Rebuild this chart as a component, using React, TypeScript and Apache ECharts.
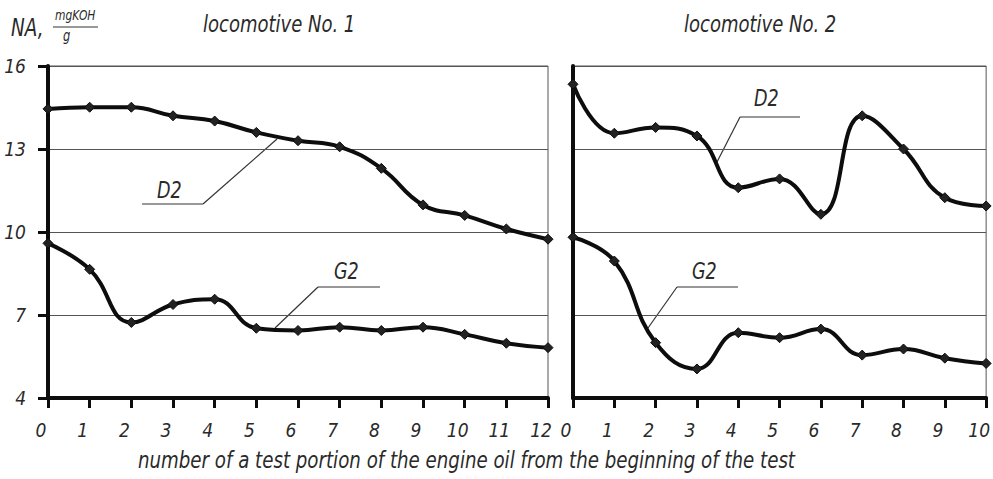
import React, { useEffect, useRef } from "react";
import * as echarts from "echarts";

// Test portion numbers for each locomotive
const portions1 = ["0", "1", "2", "3", "4", "5", "6", "7", "8", "9", "10", "11", "12"];
const portions2 = ["0", "1", "2", "3", "4", "5", "6", "7", "8", "9", "10"];

// Neutralization number, mgKOH/g
const loco1D2 = [14.45, 14.51, 14.51, 14.2, 14.01, 13.6, 13.3, 13.08, 12.3, 10.98, 10.6, 10.11, 9.74];
const loco1G2 = [9.59, 8.65, 6.73, 7.38, 7.57, 6.52, 6.44, 6.56, 6.44, 6.56, 6.3, 5.98, 5.82];
const loco2D2 = [15.34, 13.57, 13.78, 13.47, 11.6, 11.92, 10.64, 14.2, 13.0, 11.24, 10.94];
const loco2G2 = [9.81, 8.95, 6.0, 5.05, 6.36, 6.18, 6.49, 5.55, 5.77, 5.44, 5.25];

const yTicks = { min: 4, max: 16, interval: 3 };

const FONT = "'Liberation Sans Narrow', 'DejaVu Sans Condensed', 'Roboto', sans-serif";
const TEXT = "#2a2a2a";
const INK = "#0d0d0d";
const NARROW = 0.85;

export default function App() {
  const ref = useRef<HTMLDivElement>(null);

  useEffect(() => {
    if (!ref.current) return;
    const chart = echarts.init(ref.current, undefined, { renderer: "svg" });

    const label = (size: number) => ({
      fontFamily: FONT,
      fontStyle: "italic" as const,
      fontSize: size,
      color: TEXT,
    });

    // condensed italic caption placed at a pixel position
    const caption = (x: number, y: number, text: string, size: number, scaleX = NARROW) => ({
      type: "text",
      x,
      y,
      scaleX,
      style: {
        text,
        fontFamily: FONT,
        fontStyle: "italic",
        fontSize: size,
        fill: TEXT,
        align: "left",
        verticalAlign: "top",
      },
    });

    const grid = (left: number, width: number) => ({
      left,
      top: 66,
      width,
      height: 332,
      show: true,
      borderColor: "#555",
      borderWidth: 1,
      backgroundColor: "transparent",
    });

    const xAxis = (gridIndex: number, data: string[]) => ({
      type: "category" as const,
      gridIndex,
      data,
      boundaryGap: false,
      axisLine: { show: true, lineStyle: { color: INK, width: 4 } },
      axisTick: { show: true, length: 10, lineStyle: { color: INK, width: 3 } },
      axisLabel: { ...label(19), margin: 22, padding: [0, 14, 0, 0] },
      splitLine: { show: false },
    });

    const yAxis = (gridIndex: number, showLabels: boolean) => ({
      type: "value" as const,
      gridIndex,
      ...yTicks,
      axisLine: { show: true, lineStyle: { color: INK, width: 4 } },
      axisTick: { show: showLabels, length: 10, lineStyle: { color: INK, width: 3 } },
      axisLabel: { show: showLabels, ...label(19), margin: 22 },
      splitLine: { show: true, lineStyle: { color: "#555", width: 1 } },
    });

    const line = (name: string, data: number[], xAxisIndex: number) => ({
      name,
      type: "line" as const,
      xAxisIndex,
      yAxisIndex: xAxisIndex,
      data,
      smooth: 0.45,
      symbol: "diamond",
      symbolSize: 10,
      lineStyle: { color: INK, width: 4 },
      itemStyle: { color: "#222", borderColor: INK, borderWidth: 1 },
    });

    const leader = (tx: number, ty: number, name: string, x1: number, x2: number, uy: number, ex: number, ey: number, fromLeft: boolean) => [
      caption(tx, ty, name, 23),
      { type: "line", shape: { x1, y1: uy, x2, y2: uy }, style: { stroke: "#333", lineWidth: 1.2 } },
      { type: "line", shape: { x1: fromLeft ? x1 : x2, y1: uy, x2: ex, y2: ey }, style: { stroke: "#333", lineWidth: 1.2 } },
    ];

    chart.setOption({
      animation: false,
      grid: [grid(48, 500), grid(573, 416)],
      xAxis: [xAxis(0, portions1), xAxis(1, portions2)],
      yAxis: [yAxis(0, true), yAxis(1, false)],
      series: [
        line("D2", loco1D2, 0),
        line("G2", loco1G2, 0),
        line("D2", loco2D2, 1),
        line("G2", loco2G2, 1),
      ],
      graphic: [
        caption(11, 15, "NA,", 24),
        caption(55, 8, "mgKOH", 14),
        { type: "line", shape: { x1: 53, y1: 27, x2: 98, y2: 27 }, style: { stroke: "#333", lineWidth: 1 } },
        caption(63, 28, "g", 15),
        caption(203, 12, "locomotive No. 1", 23, 0.87),
        caption(684, 12, "locomotive No. 2", 23, 0.87),
        caption(138, 449, "number of a test portion of the engine oil from the beginning of the test", 23, 0.88),
        ...leader(157, 178, "D2", 142, 203, 204, 277, 139, false),
        ...leader(334, 259, "G2", 318, 380, 287, 275, 328, true),
        ...leader(754, 86, "D2", 740, 800, 117, 717, 162, true),
        ...leader(692, 259, "G2", 677, 738, 287, 648, 328, true),
      ],
    });

    return () => chart.dispose();
  }, []);

  return (
    <div
      ref={ref}
      style={{ position: "fixed", left: 0, top: 0, width: 993, height: 479, background: "#fff" }}
    />
  );
}
